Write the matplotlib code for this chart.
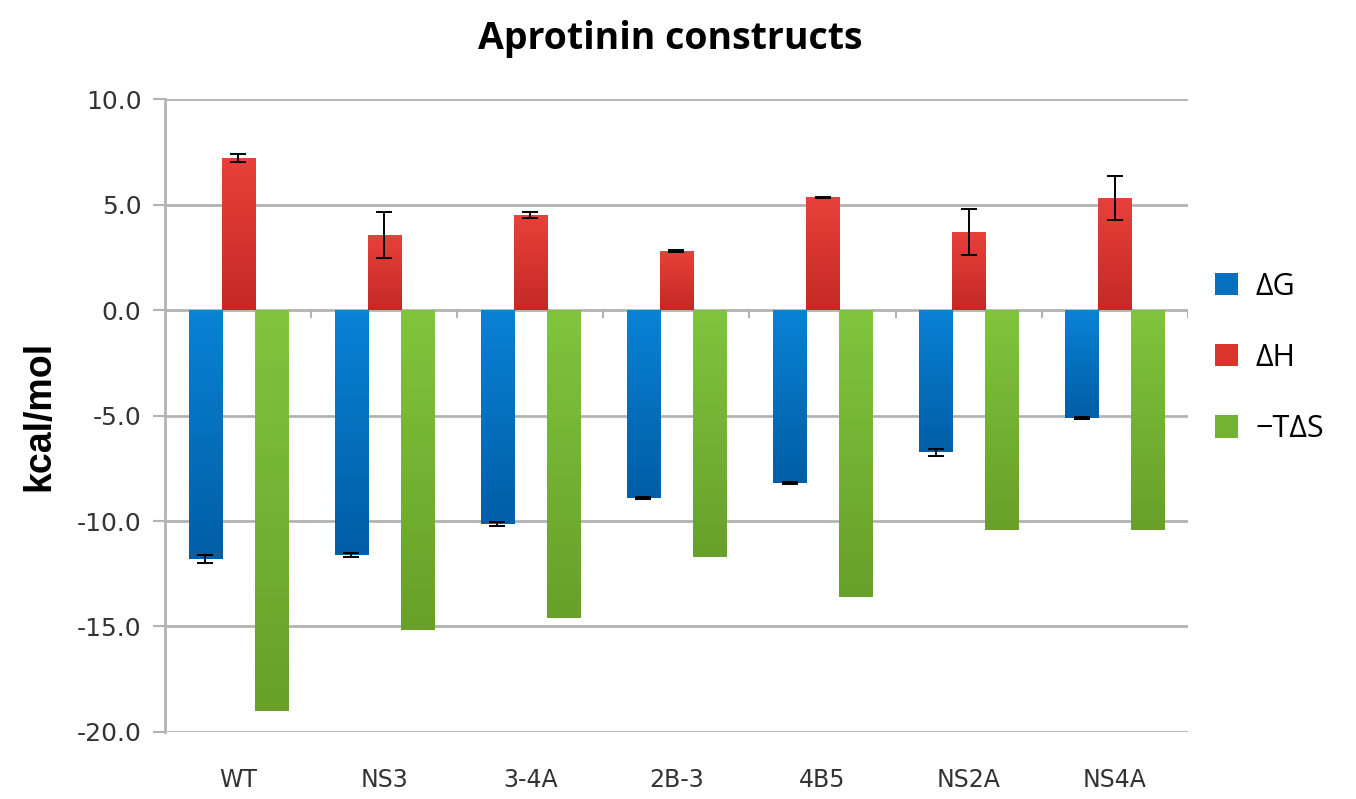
import numpy as np
import matplotlib
matplotlib.use("Agg")
from matplotlib import pyplot as plt
from matplotlib.colors import LinearSegmentedColormap

constructs = ["WT", "NS3", "3-4A", "2B-3", "4B5", "NS2A", "NS4A"]
dG = [-11.8, -11.6, -10.15, -8.9, -8.2, -6.75, -5.1]
dG_err = [0.2, 0.1, 0.1, 0.05, 0.05, 0.15, 0.05]
dH = [7.2, 3.55, 4.5, 2.8, 5.35, 3.7, 5.3]
dH_err = [0.18, 1.1, 0.15, 0.05, 0.03, 1.1, 1.05]
TdS = [-19.0, -15.15, -14.6, -11.7, -13.6, -10.45, -10.45]
series_names = ["\u0394G", "\u0394H", "\u2212T\u0394S"]

# (top colour, mid colour, bottom colour) for the slight vertical shading of each series
blue = ("#0a82d6", "#0670c0", "#005ea6")
red = ("#e8403a", "#d8352f", "#c42a25")
green = ("#80c43c", "#74b232", "#68a02a")
grey = "#b3b3b3"
text_col = "#333333"

fig = plt.figure(figsize=(13.56, 7.99), dpi=100)
ax = fig.add_axes([0.1217, 0.0839, 0.876 - 0.1217, 0.876 - 0.0839])

x = np.arange(len(constructs))
w = 0.226
err_kw = dict(ecolor="black", elinewidth=1.4, capsize=6, capthick=1.4, zorder=5)

bars_g = ax.bar(x - w, dG, w, color=blue[1], yerr=dG_err, error_kw=err_kw, zorder=3, label=series_names[0])
bars_h = ax.bar(x, dH, w, color=red[1], yerr=dH_err, error_kw=err_kw, zorder=3, label=series_names[1])
bars_s = ax.bar(x + w, TdS, w, color=green[1], zorder=3, label=series_names[2])

# shade bars: lighter at the top edge, darker at the bottom edge
grad = np.linspace(0, 1, 64).reshape(-1, 1)
for bars, cols in [(bars_g, blue), (bars_h, red), (bars_s, green)]:
    cmap = LinearSegmentedColormap.from_list("c", [cols[0], cols[2]])
    for p in bars:
        x0, y0 = p.get_x(), p.get_y()
        x1, y1 = x0 + p.get_width(), y0 + p.get_height()
        im = ax.imshow(grad, cmap=cmap, aspect="auto", zorder=4,
                       extent=[x0, x1, min(y0, y1), max(y0, y1)], origin="upper")
        im.set_clip_path(p)
ax.set_xlim(-0.5, len(constructs) - 0.5)
ax.set_ylim(-20, 10)

yt = np.arange(-20, 10.1, 5)
ax.set_yticks(yt)
ax.set_yticklabels(["%.1f" % v for v in yt], fontsize=18, color=text_col, family="DejaVu Sans")
ax.yaxis.grid(True, color=grey, linewidth=2, zorder=0)
ax.set_axisbelow(True)

ax.set_xticks(x)
ax.set_xticklabels(constructs, fontsize=17, color=text_col, family="DejaVu Sans")
ax.tick_params(axis="x", length=0, pad=26)
ax.tick_params(axis="y", length=9, width=1.5, color=grey, pad=8)

# small category separators on the zero line
for b in np.arange(0.5, len(constructs), 1.0):
    ax.plot([b, b], [0, -0.35], color=grey, lw=1.5, zorder=2)

for s in ["top", "right", "bottom"]:
    ax.spines[s].set_visible(False)
ax.spines["left"].set_color(grey)
ax.spines["left"].set_linewidth(2)

ax.set_ylabel("kcal/mol", fontsize=27, fontweight="bold", family="Liberation Sans", labelpad=14)
fig.text(0.494, 0.951, "Aprotinin constructs", ha="center", va="center",
         fontsize=27, fontweight="bold", family="Open Sans")

fig.legend(loc="center left", bbox_to_anchor=(0.876, 0.552), frameon=False,
           handlelength=0.75, handleheight=0.75, labelspacing=1.35, handletextpad=0.55,
           prop={"family": "Open Sans", "size": 22})

fig.savefig("out.png", dpi=100, facecolor="white")
